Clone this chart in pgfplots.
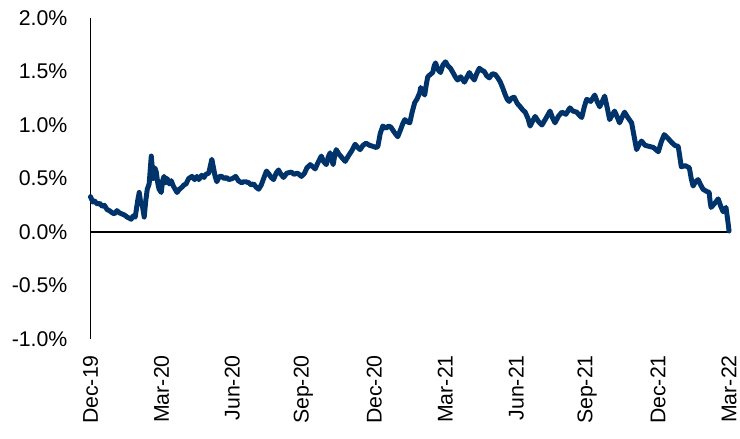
\documentclass[border=0pt]{standalone}
\usepackage{fontspec}
\setmainfont{Liberation Sans}
\usepackage{pgfplots}
\pgfplotsset{compat=1.18}
\definecolor{navy}{HTML}{00336A}

\begin{document}
\begin{tikzpicture}
\begin{axis}[
    name=ax,
    scale only axis,
    width=642bp,
    height=323bp,
    xmin=0, xmax=27,
    ymin=-1, ymax=2,
    axis lines*=left,
    x axis line style={draw=none},
    y axis line style={black, line width=1.3bp},
    major tick length=0pt,
    xtick={0,3,...,27},
    xticklabels={Dec-19,Mar-20,Jun-20,Sep-20,Dec-20,Mar-21,Jun-21,Sep-21,Dec-21,Mar-22},
    xticklabel style={rotate=90, anchor=east, inner sep=0pt, font=\fontsize{21.5}{24}\selectfont},
    xticklabel shift=16bp,
    ytick={-1,-0.5,...,2},
    yticklabel={\pgfmathprintnumber[fixed,fixed zerofill,precision=1]{\tick}\%},
    yticklabel style={anchor=east, inner sep=0pt, font=\fontsize{21.5}{24}\selectfont},
    yticklabel shift=23bp,
    /pgf/number format/assume math mode=true,
    clip=false,
]
\draw[black, line width=1.3bp] (axis cs:0,0) -- (axis cs:27,0);
\addplot[color=navy, line width=5bp, line join=round, line cap=round, mark=none] coordinates {
(0.00,0.33) (0.10,0.28) (0.17,0.29) (0.30,0.26) (0.38,0.27) (0.50,0.24) (0.59,0.25) (0.70,0.21) (0.80,0.20)
(0.92,0.18) (1.01,0.17) (1.12,0.20) (1.22,0.18) (1.32,0.17) (1.43,0.16) (1.55,0.14) (1.72,0.12) (1.80,0.15) (1.89,0.14)
(2.00,0.30) (2.06,0.37) (2.12,0.28) (2.19,0.25) (2.27,0.14) (2.34,0.30) (2.40,0.40) (2.48,0.45) (2.57,0.71)
(2.65,0.50) (2.72,0.60) (2.78,0.56) (2.85,0.45) (2.90,0.40) (2.99,0.37) (3.05,0.48) (3.11,0.52) (3.18,0.46) (3.24,0.50)
(3.33,0.45) (3.41,0.48) (3.50,0.43) (3.58,0.40) (3.66,0.37) (3.76,0.40) (3.87,0.42) (3.95,0.44) (4.04,0.45)
(4.15,0.50) (4.29,0.52) (4.40,0.49) (4.50,0.52) (4.58,0.49) (4.70,0.53) (4.80,0.51) (4.88,0.54) (5.00,0.55)
(5.13,0.68) (5.20,0.60) (5.27,0.52) (5.34,0.47) (5.45,0.52) (5.55,0.52) (5.65,0.50) (5.75,0.51) (5.85,0.49)
(6.00,0.50) (6.14,0.52) (6.25,0.48) (6.39,0.46) (6.47,0.47) (6.56,0.47) (6.70,0.46) (6.80,0.44) (6.90,0.45)
(7.00,0.42) (7.11,0.40) (7.22,0.44) (7.32,0.50) (7.44,0.57) (7.55,0.54) (7.64,0.51) (7.74,0.49) (7.85,0.55)
(7.95,0.58) (8.05,0.54) (8.16,0.51) (8.30,0.55) (8.49,0.56) (8.60,0.54) (8.75,0.55) (8.92,0.52) (9.05,0.55)
(9.15,0.60) (9.29,0.63) (9.40,0.61) (9.50,0.59) (9.60,0.64) (9.76,0.71) (9.85,0.66) (9.97,0.63) (10.05,0.70)
(10.13,0.74) (10.20,0.67) (10.26,0.63) (10.33,0.72) (10.39,0.77) (10.50,0.73) (10.65,0.69) (10.77,0.66)
(10.90,0.71) (11.05,0.76) (11.19,0.82) (11.30,0.79) (11.40,0.77) (11.52,0.81) (11.65,0.83) (11.80,0.81)
(11.95,0.80) (12.08,0.79) (12.15,0.80) (12.25,0.92) (12.36,0.99) (12.50,0.97) (12.60,0.99) (12.70,0.98)
(12.85,0.93) (12.99,0.89) (13.10,0.95) (13.20,1.01) (13.29,1.05) (13.40,1.03) (13.50,1.02) (13.60,1.12)
(13.71,1.21) (13.80,1.24) (13.92,1.30) (13.96,1.35) (14.05,1.31) (14.13,1.28) (14.20,1.38) (14.26,1.45)
(14.36,1.47) (14.47,1.49) (14.53,1.55) (14.59,1.58) (14.68,1.52) (14.80,1.49) (14.90,1.56) (15.01,1.59)
(15.12,1.55) (15.22,1.53) (15.35,1.48) (15.45,1.44) (15.52,1.42) (15.65,1.45) (15.81,1.40) (15.90,1.44)
(16.02,1.49) (16.12,1.45) (16.23,1.42) (16.33,1.48) (16.44,1.53) (16.55,1.51) (16.65,1.50) (16.75,1.46)
(16.86,1.44) (17.00,1.48) (17.12,1.47) (17.22,1.44) (17.33,1.40) (17.44,1.34) (17.54,1.28) (17.62,1.24)
(17.70,1.22) (17.80,1.25) (17.91,1.26) (18.05,1.20) (18.17,1.17) (18.28,1.14) (18.38,1.12) (18.50,1.06)
(18.59,0.99) (18.70,1.04) (18.80,1.08) (18.95,1.03) (19.09,1.00) (19.25,1.06) (19.43,1.13) (19.53,1.07)
(19.64,1.02) (19.78,1.08) (19.93,1.12) (20.10,1.10) (20.27,1.16) (20.40,1.13) (20.56,1.12) (20.67,1.09)
(20.77,1.07) (20.88,1.17) (20.98,1.24) (21.15,1.22) (21.32,1.28) (21.42,1.22) (21.53,1.17) (21.64,1.22)
(21.74,1.27) (21.85,1.16) (21.95,1.05) (22.05,1.09) (22.16,1.13) (22.26,1.08) (22.37,1.02) (22.47,1.07)
(22.58,1.12) (22.72,1.07) (22.88,1.02) (22.98,0.90) (23.09,0.77) (23.20,0.82) (23.30,0.85) (23.45,0.81)
(23.63,0.80) (23.80,0.79) (24.01,0.75) (24.13,0.84) (24.26,0.91) (24.40,0.88) (24.56,0.84) (24.70,0.81)
(24.85,0.80) (24.92,0.70) (24.98,0.61) (25.15,0.62) (25.32,0.60) (25.40,0.50) (25.48,0.43) (25.58,0.47)
(25.69,0.49) (25.80,0.44) (25.90,0.40) (26.05,0.38) (26.16,0.37) (26.20,0.28) (26.24,0.23) (26.40,0.27)
(26.54,0.31) (26.65,0.24) (26.75,0.19) (26.87,0.23) (26.95,0.10) (27.00,0.01)
};
\end{axis}
\pgfresetboundingbox
\path (ax.south west) ++(-91bp,-100bp) rectangle ++(744bp,441bp);
\end{tikzpicture}
\end{document}
